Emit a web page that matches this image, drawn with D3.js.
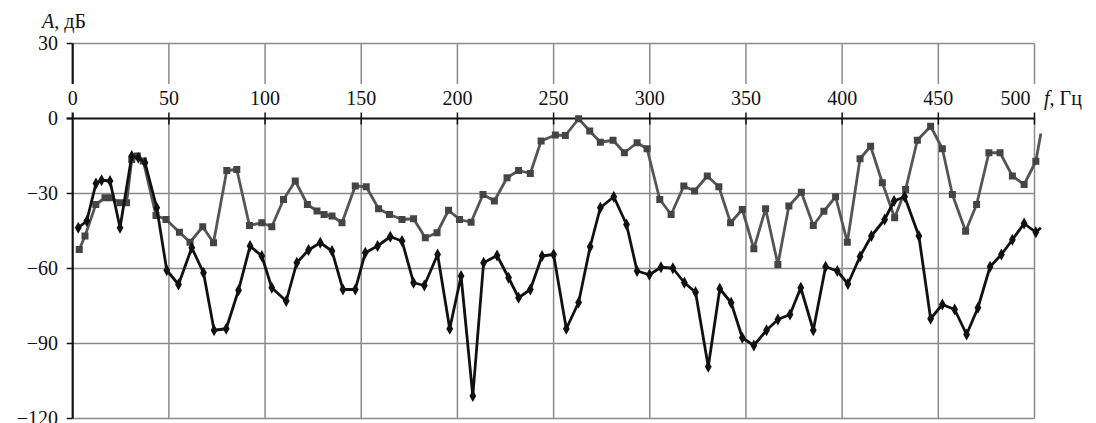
<!DOCTYPE html>
<html>
<head>
<meta charset="utf-8">
<script src="https://cdn.jsdelivr.net/npm/d3@7"></script>
<style>
  body { margin: 0; background: #fff; }
</style>
</head>
<body>
<div id="chart"></div>
<script>
// tick values
const xTicks = [0, 50, 100, 150, 200, 250, 300, 350, 400, 450, 500];
const yTicks = [30, 0, -30, -60, -90, -120];

// gray series (square markers)
const freqGray = [3.4, 6.4, 12, 16.8, 20, 24.6, 28, 30.7, 33.6, 36.7, 43.3, 48.5, 55.5, 61, 67.6, 73.2,
  80.1, 85.3, 91.9, 98.3, 103.5, 109.6, 115.7, 122, 127, 130.7, 134.8, 140, 146.9, 152.6, 159, 164.7,
  171.2, 177.2, 183.3, 189.4, 195.4, 201.1, 207.1, 213.3, 219.2, 225.8, 231.8, 237.9, 243.5, 250.9,
  256.1, 263, 268.8, 274.3, 280.9, 286.8, 293.4, 298.6, 305.2, 311.1, 317.7, 323.3, 329.9, 335.9,
  342, 348.1, 354.1, 360.2, 366.6, 372.3, 378.8, 385, 390.5, 396.6, 402.7, 409.3, 414.8, 420.9,
  427.3, 433, 439.1, 446, 452.1, 457.3, 464.2, 469.9, 476.3, 482.1, 488.5, 494.6, 500.7, 503.3];
const levelGray = [-52.4, -47, -34.4, -31.7, -31.7, -33.7, -33.7, -16.4, -15, -17, -38.8, -40.4, -45.5, -49.5, -43.3, -49.7,
  -20.8, -20.4, -42.8, -41.7, -43.3, -32.4, -25, -34.4, -37, -38.4, -39, -41.7, -27, -27.3, -36.1, -38.4,
  -40.4, -40.1, -47.7, -45.7, -36.7, -40.4, -41.5, -30.4, -33, -23.7, -20.8, -22, -9, -6.6,
  -6.8, -0.1, -5, -9.5, -8.7, -13.7, -9.7, -12.1, -32.4, -38.4, -27, -29, -23, -27.3,
  -41.7, -36.4, -52.1, -36.1, -58.4, -35, -29.5, -42.8, -37.1, -31.3, -49.5, -16.1, -11.1, -25.7,
  -39.7, -28.4, -8.7, -3.1, -12.1, -30.4, -45.1, -34.4, -13.7, -13.7, -23, -26.4, -17.1, -6];

// black series (diamond markers)
const freqBlack = [2.9, 7.3, 12.1, 15, 19.4, 24.6, 30.7, 34.1, 37.6, 43.7, 48.9, 55, 61.9, 68, 73.5, 79.8,
  86.2, 92.2, 98.3, 103.5, 111, 116.5, 122.6, 128.7, 134.8, 140.5, 146.9, 152.1, 158.5, 165.1, 171.2,
  177.2, 182.8, 189.7, 196, 201.9, 208, 213.6, 220.6, 226.6, 231.8, 237.9, 244, 250, 256.6, 263, 269,
  274.3, 281.3, 287.9, 293.4, 299.8, 305.8, 312, 318, 323.8, 330.4, 336.4, 342.3, 348.1, 354.1, 360.7,
  366.6, 372.9, 378.5, 385, 391.4, 397.5, 403, 409.3, 415.2, 422.1, 427, 432.5, 439.9, 446, 452.1,
  458.5, 464.7, 470.6, 476.9, 482.8, 488.5, 494.6, 500.7, 503.3];
const levelBlack = [-43.7, -41, -26, -24.7, -25, -43.7, -15, -15.7, -17.7, -35.7, -60.7, -66.4, -51.7, -61.7, -84.7, -84.1,
  -68.7, -51, -55, -67.7, -73, -57.7, -52.6, -49.7, -53, -68.4, -68.4, -53.7, -51, -47.3, -49,
  -65.7, -66.8, -54.4, -84.1, -63, -111, -57.7, -54.8, -63.7, -71.7, -68.4, -55, -54.4, -84.1, -73.6, -51.3,
  -35.7, -31.3, -42.4, -61, -62.5, -59.5, -59.9, -65.7, -69.5, -99.3, -68.1, -73.7, -87.7, -90.8, -84.7,
  -80.4, -78.4, -67.7, -84.7, -59.3, -61, -66.2, -55.2, -47, -40.4, -33, -31.3, -47, -80.1, -74.4,
  -76.4, -86.4, -75.7, -59.3, -54.4, -48.5, -42, -45.5, -43.7];

const width = 1096, height = 423;
const fontFamily = 'Liberation Serif';
const fontSize = 20;

const svg = d3.select('#chart').append('svg')
  .attr('width', width)
  .attr('height', height);

const x = d3.scaleLinear().domain([0, 500]).range([72.7, 1034.5]);
const y = d3.scaleLinear().domain([-120, 30]).range([418.5, 43.5]);

const gridColor = '#8a8a8a';
const labelTop = 84;

// horizontal grid
svg.append('g').selectAll('line')
  .data(yTicks.filter(d => d !== 0))
  .enter().append('line')
  .attr('x1', x(0)).attr('x2', x(500))
  .attr('y1', d => y(d)).attr('y2', d => y(d))
  .attr('stroke', gridColor).attr('stroke-width', 1.5);

// vertical grid, broken where the frequency labels sit
const vgrid = svg.append('g');
xTicks.filter(d => d !== 0).forEach(d => {
  vgrid.append('line')
    .attr('x1', x(d)).attr('x2', x(d))
    .attr('y1', y(30)).attr('y2', labelTop)
    .attr('stroke', gridColor).attr('stroke-width', 1.5);
  vgrid.append('line')
    .attr('x1', x(d)).attr('x2', x(d))
    .attr('y1', y(0)).attr('y2', y(-120))
    .attr('stroke', gridColor).attr('stroke-width', 1.5);
  vgrid.append('line')
    .attr('x1', x(d)).attr('x2', x(d))
    .attr('y1', y(0) - 6).attr('y2', y(0) + 6)
    .attr('stroke', '#111').attr('stroke-width', 1.5);
});

// left axis (black)
svg.append('line')
  .attr('x1', x(0)).attr('x2', x(0))
  .attr('y1', y(30)).attr('y2', labelTop)
  .attr('stroke', '#111').attr('stroke-width', 2.2);
svg.append('line')
  .attr('x1', x(0)).attr('x2', x(0))
  .attr('y1', y(0) - 6).attr('y2', y(-120))
  .attr('stroke', '#111').attr('stroke-width', 2.2);

// zero line
svg.append('line')
  .attr('x1', x(0) - 6).attr('x2', x(500))
  .attr('y1', y(0)).attr('y2', y(0))
  .attr('stroke', '#111').attr('stroke-width', 2.2);

// y ticks and labels
yTicks.forEach(d => {
  svg.append('line')
    .attr('x1', x(0) - 6).attr('x2', x(0))
    .attr('y1', y(d)).attr('y2', y(d))
    .attr('stroke', '#111').attr('stroke-width', 1.5);
  svg.append('text')
    .attr('x', 58).attr('y', y(d) + 6)
    .attr('text-anchor', 'end')
    .attr('font-family', fontFamily)
    .attr('font-size', fontSize)
    .attr('fill', '#111')
    .text(d < 0 ? '\u2212' + Math.abs(d) : d);
});

// x labels (last one pushed left of its grid line, as in the source)
svg.append('g').selectAll('text')
  .data(xTicks)
  .enter().append('text')
  .attr('x', d => d === 500 ? x(d) - 4 : x(d))
  .attr('y', 105)
  .attr('text-anchor', d => d === 500 ? 'end' : 'middle')
  .attr('font-family', fontFamily)
  .attr('font-size', fontSize)
  .attr('fill', '#111')
  .text(d => d);

// axis titles
const yTitle = svg.append('text').attr('x', 42).attr('y', 28)
  .attr('font-family', fontFamily)
  .attr('font-size', fontSize).attr('fill', '#111');
yTitle.append('tspan').attr('font-style', 'italic').text('A');
yTitle.append('tspan').text(', дБ');

const xTitle = svg.append('text').attr('x', 1044).attr('y', 105)
  .attr('font-family', fontFamily)
  .attr('font-size', fontSize).attr('fill', '#111');
xTitle.append('tspan').attr('font-style', 'italic').text('f');
xTitle.append('tspan').text(', Гц');

// series
const line = d3.line()
  .x(d => x(d[0]))
  .y(d => y(d[1]));

const grayData = freqGray.map((f, i) => [f, levelGray[i]]);
const blackData = freqBlack.map((f, i) => [f, levelBlack[i]]);

svg.append('path')
  .datum(grayData)
  .attr('fill', 'none')
  .attr('stroke', '#555')
  .attr('stroke-width', 2.8)
  .attr('stroke-linejoin', 'round')
  .attr('d', line);

svg.append('g').selectAll('rect')
  .data(grayData.slice(0, -1))
  .enter().append('rect')
  .attr('x', d => x(d[0]) - 3.5)
  .attr('y', d => y(d[1]) - 3.5)
  .attr('width', 7).attr('height', 7)
  .attr('fill', '#444');

svg.append('path')
  .datum(blackData)
  .attr('fill', 'none')
  .attr('stroke', '#111')
  .attr('stroke-width', 2.8)
  .attr('stroke-linejoin', 'round')
  .attr('d', line);

const diamond = d3.symbol().type(d3.symbolDiamond).size(40);
svg.append('g').selectAll('path')
  .data(blackData.slice(0, -1))
  .enter().append('path')
  .attr('transform', d => `translate(${x(d[0])},${y(d[1])})`)
  .attr('d', diamond)
  .attr('fill', '#111');
</script>
</body>
</html>
